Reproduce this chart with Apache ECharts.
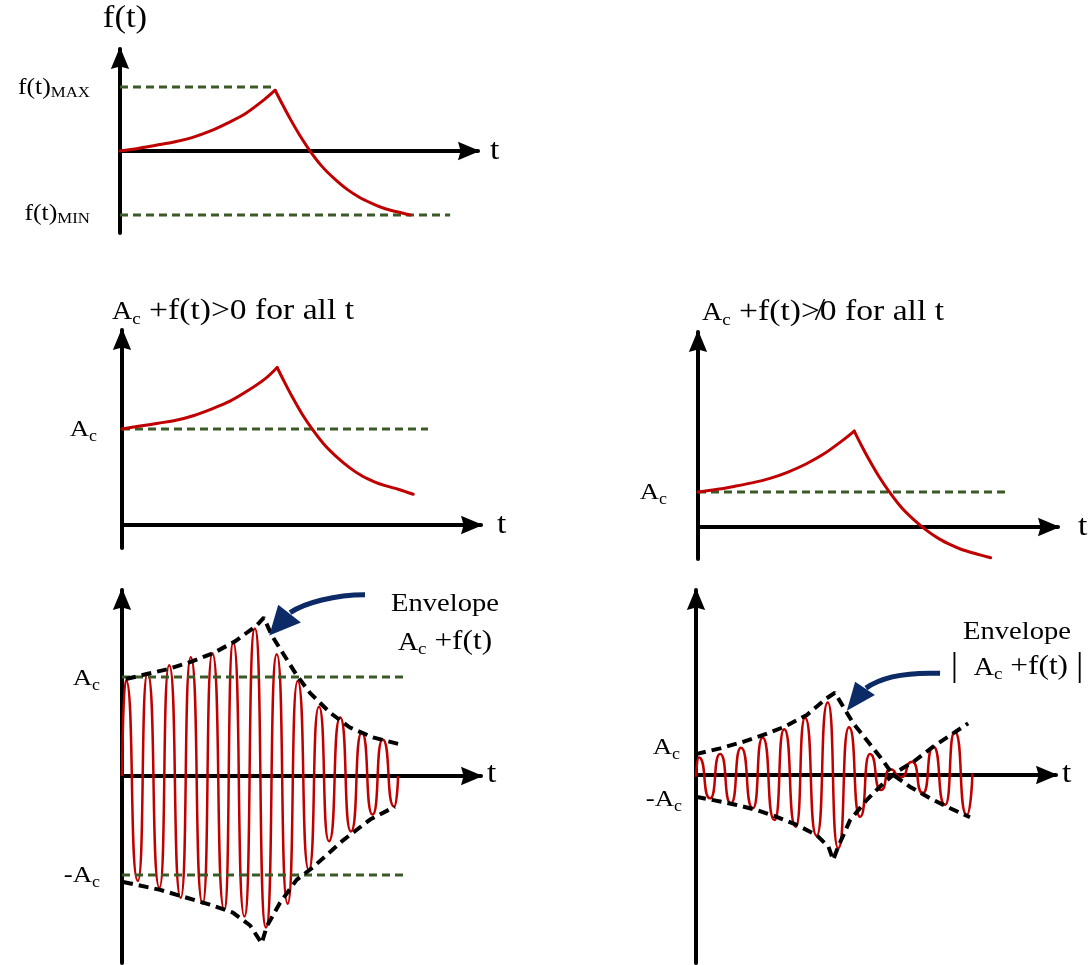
<!DOCTYPE html>
<html><head><meta charset="utf-8">
<script src="https://cdn.jsdelivr.net/npm/echarts@6/dist/echarts.min.js"></script>
<style>html,body{margin:0;padding:0;background:#fff}#c{width:1089px;height:965px}</style>
</head><body><div id="c"></div><script>
// ================= DATA =================
// Panel 1 : f(t)
const p1RiseT = [0, 0.5, 1, 1.5, 2, 2.5, 3, 3.5, 4, 4.31];
const p1RiseF = [0, 0.04, 0.09, 0.14, 0.21, 0.31, 0.44, 0.59, 0.80, 0.95];
const p1FallT = [4.31, 4.51, 4.72, 5.01, 5.28, 5.61, 5.93, 6.31, 6.67, 7.01, 7.31, 7.69, 8.06];
const p1FallF = [0.95, 0.73, 0.51, 0.23, 0.0, -0.24, -0.42, -0.60, -0.73, -0.82, -0.89, -0.95, -1.0];
const p1Levels = [1, -1];              // f(t)MAX , f(t)MIN
const p1LevelEnds = [4.31, 9.17];
const p1LevelNames = ['MAX', 'MIN'];

// Panel 2 : Ac + f(t) > 0
const p2RiseT = [0, 0.5, 1, 1.5, 2, 2.5, 3, 3.5, 4, 4.31];
const p2RiseY = [1, 1.03, 1.06, 1.09, 1.14, 1.21, 1.29, 1.40, 1.53, 1.64];
const p2FallT = [4.31, 4.51, 4.72, 5.01, 5.28, 5.61, 5.93, 6.31, 6.67, 7.01, 7.31, 7.69, 8.09];
const p2FallY = [1.64, 1.49, 1.34, 1.15, 1.0, 0.84, 0.72, 0.60, 0.51, 0.45, 0.41, 0.37, 0.32];
const p2Ac = 1, p2AcEnd = 8.5;

// Panel 3 : Ac + f(t) not > 0
const p3RiseT = [0, 0.5, 1, 1.5, 2, 2.5, 3, 3.5, 4, 4.34];
const p3RiseY = [1, 1.07, 1.16, 1.26, 1.39, 1.57, 1.80, 2.09, 2.46, 2.74];
const p3FallT = [4.34, 4.54, 4.75, 5.04, 5.31, 5.64, 5.96, 6.34, 6.70, 7.04, 7.34, 7.74, 8.13];
const p3FallY = [2.74, 2.33, 1.93, 1.42, 1.01, 0.57, 0.24, -0.09, -0.34, -0.52, -0.65, -0.77, -0.88];
const p3Ac = 1, p3AcEnd = 8.56;

// Panel 4 : AM signal, envelope Ac + f(t)
const p4CarrierT = [0, 0.11, 0.44, 0.71, 1.04, 1.31, 1.63, 1.91, 2.24, 2.51, 2.84, 3.09, 3.40, 3.69, 4.00, 4.30, 4.60, 4.88, 5.19, 5.47, 5.75, 6.06, 6.36, 6.66, 6.96, 7.24, 7.56, 7.67];
const p4CarrierY = [0, 0.97, -1.06, 1.04, -1.13, 1.12, -1.23, 1.20, -1.29, 1.24, -1.35, 1.35, -1.42, 1.49, -1.53, 1.23, -1.29, 0.96, -0.95, 0.70, -0.66, 0.59, -0.56, 0.44, -0.39, 0.37, -0.31, 0];
const p4UpperT = [0.11, 0.69, 1.28, 1.89, 2.53, 3.14, 3.74, 3.94, 4.16, 4.47, 4.85, 5.22, 5.78, 6.33, 6.97, 7.72];
const p4UpperY = [0.98, 1.03, 1.08, 1.15, 1.24, 1.36, 1.52, 1.60, 1.42, 1.24, 1.02, 0.84, 0.64, 0.49, 0.39, 0.32];
const p4LowerT = [0.03, 1.06, 1.80, 2.44, 3.08, 3.56, 3.88, 4.02, 4.39, 4.85, 5.31, 6.14, 6.89, 7.58];
const p4LowerY = [-1.07, -1.15, -1.23, -1.30, -1.38, -1.51, -1.69, -1.52, -1.28, -1.05, -0.92, -0.65, -0.44, -0.31];
const p4AcLevels = [1, -1];
const p4AcEnds = [7.94, 7.86];

// Panel 5 : AM signal, envelope |Ac + f(t)|
const p5CarrierT = [0, 0.08, 0.39, 0.67, 0.97, 1.25, 1.58, 1.85, 2.18, 2.45, 2.77, 3.03, 3.35, 3.66, 3.95, 4.25, 4.56, 4.83, 5.14, 5.39, 5.69, 6.01, 6.30, 6.59, 6.92, 7.19, 7.52, 7.68];
const p5CarrierY = [-0.08, 0.80, -1.06, 0.95, -1.29, 1.24, -1.51, 1.71, -2.05, 2.08, -2.35, 2.60, -2.76, 3.29, -3.33, 2.17, -1.90, 0.95, -0.68, 0.26, -0.10, 0.60, -0.83, 1.29, -1.36, 1.97, -1.82, 0.08];
const p5UpperT = [0, 0.67, 1.31, 1.87, 2.47, 3.08, 3.63, 3.86, 4.09, 4.37, 4.74, 5.11, 5.48, 5.94, 6.50, 7.06, 7.61];
const p5UpperY = [0.95, 1.21, 1.51, 1.82, 2.20, 2.73, 3.49, 3.74, 3.10, 2.35, 1.59, 0.83, 0, -0.53, -1.06, -1.51, -1.92];
const p5LowerT = [0, 0.48, 1.13, 1.69, 2.24, 2.80, 3.35, 3.68, 3.81, 3.95, 4.28, 4.74, 5.20, 5.58, 6.04, 6.59, 7.15, 7.56];
const p5LowerY = [-0.99, -1.14, -1.36, -1.59, -1.90, -2.27, -2.73, -3.26, -3.86, -3.26, -2.05, -1.14, -0.38, 0.15, 0.60, 1.29, 1.90, 2.35];

// Annotation arrows (data coords): tail, cp1, cp2, shaftEnd, tip, headA, headB
const p4ArrowT = [6.75, 5.92, 5.08, 4.67, 4.09, 4.34, 4.97];
const p4ArrowY = [1.83, 1.83, 1.75, 1.65, 1.42, 1.73, 1.55];
const p5ArrowT = [6.78, 5.81, 5.11, 4.72, 4.19, 4.42, 4.97];
const p5ArrowY = [4.62, 4.68, 4.41, 3.95, 2.92, 4.24, 3.64];

// ================= LAYOUT / STYLE =================
const FONT = '"Liberation Serif","Times New Roman",serif';
const RED = '#c00000', GREEN = '#3b5a28', NAVY = '#0b2a66';
const PX_T = 36;
const grids = [
  {left:120, top:49,  width:358, height:184, ymin:-1.281, ymax:1.594},
  {left:122, top:330, width:359, height:218, ymin:-0.240, ymax:2.031},
  {left:698, top:332, width:360, height:227, ymin:-0.914, ymax:5.571},
  {left:122, top:590, width:359, height:373, ymin:-1.889, ymax:1.879},
  {left:696, top:590, width:360, height:373, ymin:-8.545, ymax:8.409}
];
const ARROW = 'path://M5,0 L10,12 L5,10.6 L0,12 Z';
function axisLine(){
  return {show:true, onZero:true, symbol:['none', ARROW], symbolSize:[19,22], symbolOffset:[0,-9],
          lineStyle:{color:'#000', width:4}};
}
const zip = (a,b) => a.map((v,i)=>[v,b[i]]);
function ser(g, data, lineStyle, extra) {
  return Object.assign({type:'line', xAxisIndex:g, yAxisIndex:g, data, symbol:'none', showSymbol:false,
    silent:true, clip:false, animation:false, lineStyle}, extra || {});
}
function curve(g, data){ return ser(g, data, {color:RED, width:3, cap:'round', join:'round'}, {smooth:0.3}); }
function green(g, y, end){ return ser(g, [[0,y],[end,y]], {color:GREEN, width:3, type:[8,5]}); }
function env(g, data){ return ser(g, data, {color:'#000', width:4, type:[10,6]}); }
function carrier(g, data){ return ser(g, data, {color:RED, width:2.5, join:'round'}, {smooth:0.72, smoothMonotone:'x'}); }

const series = [];
p1Levels.forEach((lv,i)=>series.push(green(0, lv, p1LevelEnds[i])));
series.push(curve(0, zip(p1RiseT, p1RiseF)), curve(0, zip(p1FallT, p1FallF)));
series.push(green(1, p2Ac, p2AcEnd), curve(1, zip(p2RiseT, p2RiseY)), curve(1, zip(p2FallT, p2FallY)));
series.push(green(2, p3Ac, p3AcEnd), curve(2, zip(p3RiseT, p3RiseY)), curve(2, zip(p3FallT, p3FallY)));
series.push(carrier(3, zip(p4CarrierT, p4CarrierY)));
p4AcLevels.forEach((lv,i)=>series.push(green(3, lv, p4AcEnds[i])));
series.push(env(3, zip(p4UpperT, p4UpperY)), env(3, zip(p4LowerT, p4LowerY)));
series.push(carrier(4, zip(p5CarrierT, p5CarrierY)));
series.push(env(4, zip(p5UpperT, p5UpperY)), env(4, zip(p5LowerT, p5LowerY)));

const chart = echarts.init(document.getElementById('c'), null, {renderer:'canvas', width:1089, height:965});
chart.setOption({
  animation:false,
  backgroundColor:'#fff',
  grid: grids.map(g=>({left:g.left, top:g.top, width:g.width, height:g.height, containLabel:false})),
  xAxis: grids.map((g,i)=>({gridIndex:i, type:'value', min:0, max:g.width/PX_T, axisLine:axisLine(),
     axisTick:{show:false}, axisLabel:{show:false}, splitLine:{show:false}})),
  yAxis: grids.map((g,i)=>({gridIndex:i, type:'value', min:g.ymin, max:g.ymax, axisLine:axisLine(),
     axisTick:{show:false}, axisLabel:{show:false}, splitLine:{show:false}})),
  series
});

// ================= TEXT & ANNOTATIONS =================
// S: main size, A: size of capital "A", sub: subscript size, drop: subscript baseline drop (px)
function T(x, y, text, S, align, o) {
  o = o || {};
  const A = o.A || S, sub = o.sub || Math.round(S * 0.68), drop = (o.drop == null ? 4 : o.drop);
  const pa = Math.max(0, 0.68 * (S - A));
  const ps = Math.max(0, 2 * (0.34 * (S - sub) + drop));
  const st = sz => ({fontSize:sz, fontFamily:FONT, fill:'#000'});
  return {type:'text', x, y, scaleX: o.sx || 1.12, silent:true, z:100,
    style:{text, align, verticalAlign:'middle', fill:'#000', font: S + 'px ' + FONT,
      rich:{ m: st(S),
             b: st(o.bar || S),
             a: Object.assign(st(A), {padding:[pa,0,0,0]}),
             s: Object.assign(st(sub), {padding:[ps,0,0,0]}) }}};
}
function arrowEls(g, ts, ys) {
  const P = ts.map((t,i)=>chart.convertToPixel({xAxisIndex:g, yAxisIndex:g}, [t, ys[i]]));
  return [
    {type:'bezierCurve', silent:true, z:100,
     shape:{x1:P[0][0], y1:P[0][1], cpx1:P[1][0], cpy1:P[1][1], cpx2:P[2][0], cpy2:P[2][1], x2:P[3][0], y2:P[3][1]},
     style:{stroke:NAVY, lineWidth:5, fill:'none'}},
    {type:'polygon', silent:true, z:100, shape:{points:[P[4], P[5], P[6]]}, style:{fill:NAVY}}
  ];
}
const graphics = [
  T(125, 19, '{m|f(t)}', 31, 'center'),
  T(90, 88, '{m|f(t)}{s|' + p1LevelNames[0] + '}', 23, 'right', {sub:15, drop:2.5}),
  T(90, 214, '{m|f(t)}{s|' + p1LevelNames[1] + '}', 23, 'right', {sub:15, drop:2.5}),
  T(490, 151, '{m|t}', 30, 'left'),
  T(112, 311, '{a|A}{s|c}{m| +f(t)>0 for all t}', 30, 'left', {A:25, sub:17}),
  T(97, 430, '{m|A}{s|c}', 24, 'right', {sub:16}),
  T(497, 525, '{m|t}', 30, 'left'),
  T(702, 312, '{a|A}{s|c}{m| +f(t)\u226F0 for all t}', 30, 'left', {A:25, sub:17}),
  T(667, 493, '{m|A}{s|c}', 24, 'right', {sub:16}),
  T(1078, 527, '{m|t}', 30, 'left'),
  T(100, 679, '{m|A}{s|c}', 24, 'right', {sub:16}),
  T(100, 876, '{m|-A}{s|c}', 24, 'right', {sub:16}),
  T(487, 774, '{m|t}', 30, 'left'),
  T(445, 604, '{m|Envelope}', 26, 'center', {sx:1.1}),
  T(445, 642, '{a|A}{s|c}{m| +f(t)}', 28, 'center', {A:25, sub:17}),
  T(680, 748, '{m|A}{s|c}', 24, 'right', {sub:16}),
  T(682, 800, '{m|-A}{s|c}', 24, 'right', {sub:16}),
  T(1062, 774, '{m|t}', 30, 'left'),
  T(1017, 632, '{m|Envelope}', 26, 'center', {sx:1.1}),
  T(1017, 667, '{b||}{m|  }{a|A}{s|c}{m| +f(t) }{b||}', 28, 'center', {A:25, sub:17, bar:33})
].concat(arrowEls(3, p4ArrowT, p4ArrowY), arrowEls(4, p5ArrowT, p5ArrowY));
chart.setOption({graphic: graphics});
</script></body></html>
